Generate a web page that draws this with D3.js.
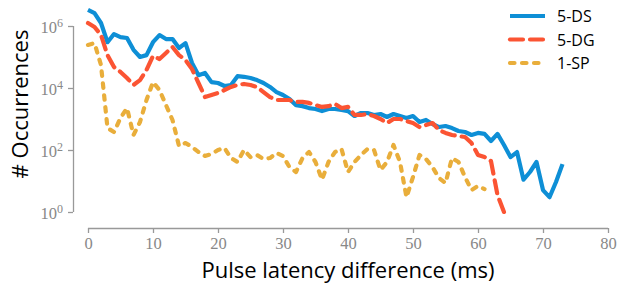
<!DOCTYPE html>
<html>
<head>
<meta charset="utf-8">
<script src="https://cdn.jsdelivr.net/npm/d3@7"></script>
<style>
  body { margin: 0; background: #fff; }
  svg { display: block; }
</style>
</head>
<body>
<svg width="617" height="285"></svg>
<script>
// latency difference in ms (index = ms)
var dsValues = [3.3e6, 2.6e6, 1.25e6, 3.0e5, 5.5e5, 4.4e5, 4.1e5, 1.7e5, 1.0e5, 1.15e5,
  3.0e5, 5.1e5, 3.8e5, 3.8e5, 1.95e5, 2.8e5, 6.4e4, 2.6e4, 3.05e4, 1.55e4,
  1.45e4, 1.16e4, 1.25e4, 2.4e4, 2.3e4, 2.1e4, 1.8e4, 1.45e4, 1.08e4, 7400,
  5950, 4400, 2800, 2600, 2250, 2100, 1800, 2100, 2100, 1950,
  1800, 1250, 1560, 1560, 1350, 1450, 1160, 1450, 1250, 1080,
  1250, 800, 930, 690, 550, 595, 510, 410, 380, 305,
  355, 330, 195, 330, 145, 59, 86, 11, 19.5, 41,
  5.1, 3.0, 9.3, 35];

var dgValues = [1.25e6, 9.3e5, 5.1e5, 1.15e5, 4.75e4, 3.3e4, 2.1e4, 1.25e4, 1.8e4, 3.8e4,
  1.08e5, 8.6e4, 1.35e5, 2.1e5, 1.15e5, 8.0e4, 4.1e4, 1.45e4, 5100, 5950,
  6900, 8600, 1.08e4, 1.25e4, 1.35e4, 1.25e4, 1.08e4, 7400, 5100, 4100,
  4100, 4100, 3550, 3550, 3300, 2800, 2450, 2600, 3050, 2250,
  2450, 1350, 1350, 1450, 1250, 1000, 740, 1000, 1000, 860,
  740, 550, 640, 740, 440, 355, 305, 283, 262, 168,
  69, 59, 44, 3.5, 1];

var spValues = [2.45e5, 2.8e5, 5.5e4, 510, 380, 1080, 2250, 305, 800, 4100,
  1.55e4, 8600, 2800, 930, 135, 168, 125, 86, 64, 74,
  100, 116, 55, 41, 100, 59, 69, 51, 55, 80,
  64, 28, 19.5, 55, 86, 41, 11, 41, 86, 108,
  19.5, 41, 69, 108, 100, 22.6, 41, 145, 41, 3.0,
  13.5, 69, 51, 28, 12.5, 8.6, 55, 41, 13.5, 5.1,
  6.9, 5.5];

var seriesNames = ["5-DS", "5-DG", "1-SP"];
var seriesColors = ["#0e8fd6", "#fb5433", "#e9ae3b"];
var seriesDash = [null, "13,7", "4.5,7.5"];
var xTicks = [0, 10, 20, 30, 40, 50, 60, 70, 80];
var yTicks = [1, 100, 1e4, 1e6];

var svg = d3.select("svg");
var x = d3.scaleLinear().domain([0, 80]).range([88, 608]);
var y = d3.scaleLog().domain([1, 1e6]).range([212, 26]);

var all = [dsValues, dgValues, spValues];

var line = d3.line()
  .x(function (d, i) { return x(i); })
  .y(function (d) { return y(d); });

all.forEach(function (vals, k) {
  svg.append("path")
    .datum(vals)
    .attr("d", line)
    .attr("fill", "none")
    .attr("stroke", seriesColors[k])
    .attr("stroke-width", 4.2)
    .attr("stroke-linejoin", "round")
    .attr("stroke-linecap", k == 0 ? "butt" : "round")
    .attr("stroke-dasharray", seriesDash[k]);
});

// axes
var gx = svg.append("g")
  .attr("transform", "translate(0,228)")
  .call(d3.axisBottom(x).tickValues(xTicks).tickSize(5).tickPadding(4));
var gy = svg.append("g")
  .attr("transform", "translate(73,0)")
  .call(d3.axisLeft(y).tickValues(yTicks).tickSize(5).tickPadding(5).tickFormat(""));

[gx, gy].forEach(function (g) {
  g.select(".domain").attr("stroke", "#999").attr("stroke-width", 1.3)
    .attr("d", g === gx ? "M88,0.5H608" : "M0.5,26V212");
  g.selectAll(".tick line").attr("stroke", "#999").attr("stroke-width", 1.3);
  g.selectAll(".tick text").attr("fill", "#888")
    .style("font-family", "'Liberation Serif', serif").style("font-size", "16.5px");
});

gy.selectAll(".tick text").each(function (d) {
  var t = d3.select(this);
  t.text("10").attr("dy", "0.4em");
  t.append("tspan").attr("dy", "-0.5em").style("font-size", "12px")
    .text(Math.round(Math.log10(d)));
});

// axis titles
svg.append("text")
  .attr("transform", "rotate(-90)")
  .attr("x", -104)
  .attr("y", 28)
  .style("text-anchor", "middle")
  .style("font-family", "'Open Sans', sans-serif")
  .style("font-size", "22px")
  .text("# Occurrences");

svg.append("text")
  .attr("x", 348)
  .attr("y", 278)
  .style("text-anchor", "middle")
  .style("font-family", "'Open Sans', sans-serif")
  .style("font-size", "22px")
  .text("Pulse latency difference (ms)");

// legend
var legend = svg.append("g");
seriesNames.forEach(function (name, k) {
  var ly = 16 + k * 23.5;
  legend.append("line")
    .attr("x1", 510).attr("x2", k == 0 ? 545 : 543)
    .attr("y1", ly).attr("y2", ly)
    .attr("stroke", seriesColors[k])
    .attr("stroke-width", 4.2)
    .attr("stroke-linecap", k == 0 ? "butt" : "round")
    .attr("stroke-dasharray", seriesDash[k]);
  legend.append("text")
    .attr("x", 557).attr("y", ly + 6)
    .style("font-family", "'Open Sans', sans-serif")
    .style("font-size", "16px")
    .text(name);
});
</script>
</body>
</html>
